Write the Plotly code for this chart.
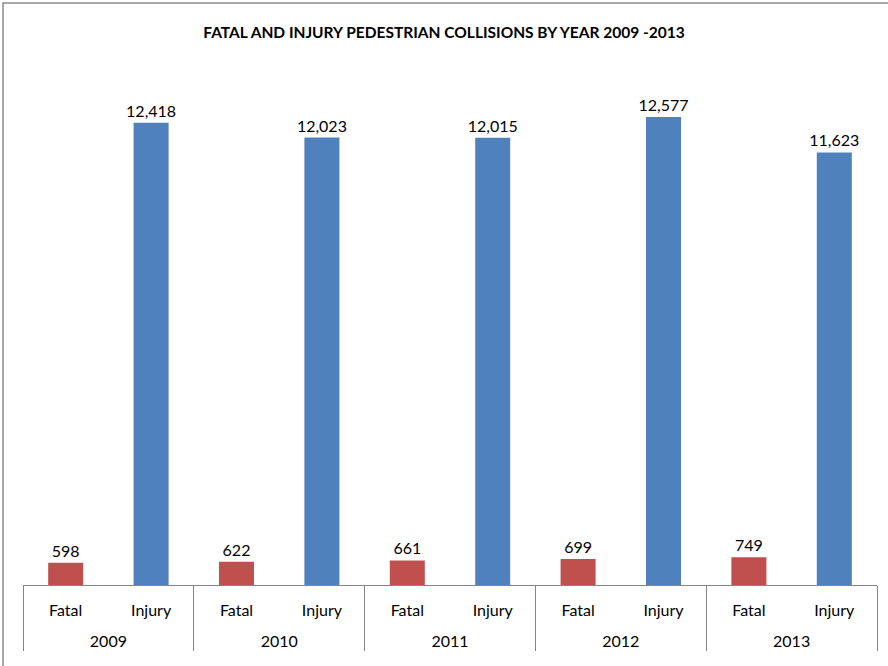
import plotly.graph_objects as go

years = ["2009", "2010", "2011", "2012", "2013"]
types = ["Fatal", "Injury"]
fatal = [598, 622, 661, 699, 749]
injury = [12418, 12023, 12015, 12577, 11623]

xs_year = []
xs_type = []
ys = []
colors = []
texts = []
for i, y in enumerate(years):
    for t, v, c in (("Fatal", fatal[i], "#C0504D"), ("Injury", injury[i], "#4F81BD")):
        xs_year.append(" <br>" + y)
        xs_type.append(t)
        ys.append(v)
        colors.append(c)
        texts.append(f"{v:,}")

FONT = "Lato, 'Open Sans', sans-serif"

fig = go.Figure(go.Bar(
    x=[xs_year, xs_type], y=ys, marker=dict(color=colors, line=dict(width=0)),
    text=texts, textposition="outside", cliponaxis=False, constraintext="none",
    textfont=dict(family=FONT, size=16, color="#000000"),
))

fig.update_layout(
    width=888, height=666,
    margin=dict(l=23, r=11, t=64, b=81, autoexpand=False),
    paper_bgcolor="white", plot_bgcolor="white",
    bargap=0.59,
    showlegend=False,
    title=dict(text="<b>FATAL AND INJURY PEDESTRIAN COLLISIONS BY YEAR 2009 -2013</b>",
               x=0.5, xanchor="center", y=1 - 33 / 666, yanchor="middle",
               font=dict(family=FONT, size=15.5, color="#000000")),
    xaxis=dict(type="multicategory", showline=True, linecolor="#868686", linewidth=1,
               showdividers=True, dividercolor="#868686", dividerwidth=1,
               tickfont=dict(family=FONT, size=16, color="#000000"),
               ticklabelstandoff=11,
               showgrid=False, automargin=False),
    yaxis=dict(range=[0, 14000], visible=False, showgrid=False, zeroline=False),
    shapes=[dict(type="rect", xref="paper", yref="paper",
                 x0=(3 - 23) / 854, x1=(895 - 23) / 854,
                 y0=(585 - 675) / 521, y1=(585 - 3) / 521,
                 line=dict(color="#8C8C8C", width=1.5), fillcolor="rgba(0,0,0,0)", layer="below")],
)

fig.write_html("out.html", config={"displayModeBar": False},
               post_script="document.body.style.margin='0';")
